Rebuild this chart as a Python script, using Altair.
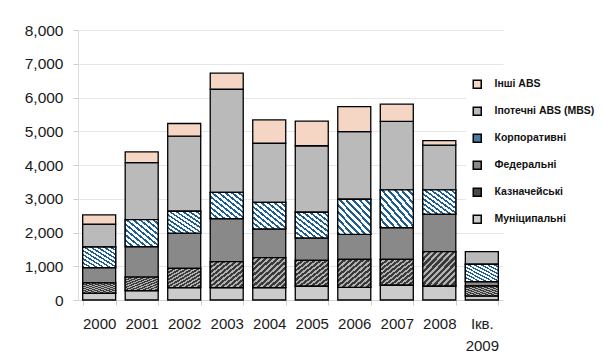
import altair as alt
import pandas as pd

years = ["2000", "2001", "2002", "2003", "2004", "2005", "2006", "2007", "2008", "Ікв. 2009"]
categories = ["Муніципальні", "Казначейські", "Федеральні", "Корпоративні", "Іпотечні ABS (MBS)", "Інші ABS"]
municipal = [200, 280, 365, 365, 365, 415, 375, 445, 415, 120]
treasury = [310, 400, 575, 770, 890, 760, 830, 760, 1020, 295]
federal = [450, 900, 1040, 1275, 850, 665, 740, 940, 1110, 130]
corporate = [610, 800, 650, 780, 790, 760, 1040, 1120, 720, 515]
mbs = [680, 1690, 2225, 3055, 1750, 1970, 2005, 2025, 1325, 375]
other = [270, 320, 375, 475, 690, 730, 740, 515, 130, 0]

series = [municipal, treasury, federal, corporate, mbs, other]
rows = []
for k, (cat, vals) in enumerate(zip(categories, series)):
    for y, v in zip(years, vals):
        rows.append({"year": y, "category": cat, "order": k, "value": v})
df = pd.DataFrame(rows)

legend_order = list(reversed(categories))
legend_colors = ["#f5d6c4", "#bababa", "#4a7aa3", "#898989", "#4a4a4a", "#cbcbcb"]


def stripes(c1, c2, n, frac, x1, y1, x2, y2):
    stops = []
    for i in range(n):
        a = i / n
        m = (i + frac) / n
        b = (i + 1) / n
        stops += [alt.GradientStop(offset=a, color=c1), alt.GradientStop(offset=m, color=c1),
                  alt.GradientStop(offset=m, color=c2), alt.GradientStop(offset=b, color=c2)]
    return alt.LinearGradient(gradient="linear", stops=stops, x1=x1, y1=y1, x2=x2, y2=y2)


treasury_fill = stripes("#3a3a3a", "#b3b3b3", 11, 0.55, 0, 0, 1, 1)
corporate_fill = stripes("#1d5e8e", "#ffffff", 10, 0.42, 0, 1, 1, 0)

base = alt.Chart(df).transform_filter("datum.value > 0").transform_stack(
    stack="value", groupby=["year"], as_=["y0", "y1"], sort=[alt.SortField("order")]
)

x_enc = alt.X(
    "year:N", sort=years, title=None,
    scale=alt.Scale(paddingInner=0.224, paddingOuter=0.11),
    axis=alt.Axis(
        labelAngle=0, labelFontSize=15, labelColor="#1a1a1a", labelPadding=11,
        tickBand="extent", tickSize=5, tickColor="#cfcfcf", domainColor="#d4d4d4",
        labelLineHeight=22,
        labelExpr="datum.value == 'Ікв. 2009' ? ['Ікв.', '2009'] : datum.value",
    ),
)
y_enc = alt.Y(
    "y0:Q", title=None,
    scale=alt.Scale(domain=[0, 8000], nice=False),
    axis=alt.Axis(
        values=[0, 1000, 2000, 3000, 4000, 5000, 6000, 7000, 8000], format=",.0f",
        labelFontSize=15.5, labelColor="#1a1a1a", labelPadding=10, tickSize=5,
        tickColor="#cfcfcf", domainColor="#dedede", gridColor="#e6e6e6",
    ),
)

bars = base.mark_bar(stroke="black", strokeWidth=1.3).encode(
    x=x_enc, y=y_enc, y2="y1:Q",
    color=alt.Color(
        "category:N",
        scale=alt.Scale(domain=legend_order, range=legend_colors),
        legend=alt.Legend(
            title=None, orient="none", legendX=388, legendY=43,
            symbolType="square", symbolSize=64, symbolStrokeColor="black",
            symbolStrokeWidth=1.5, symbolOpacity=1,
            labelFont="Liberation Sans", labelFontWeight="bold", labelFontSize=10.5,
            labelColor="#111111", rowPadding=12, labelOffset=12,
            fillColor="white", padding=6,
        ),
    ),
)

treas = base.transform_filter("datum.category == 'Казначейські'").mark_bar(
    color=treasury_fill, stroke="black", strokeWidth=1.3
).encode(x=x_enc, y=y_enc, y2="y1:Q")

corp = base.transform_filter("datum.category == 'Корпоративні'").mark_bar(
    color=corporate_fill, stroke="black", strokeWidth=1.3
).encode(x=x_enc, y=y_enc, y2="y1:Q")

chart = alt.layer(bars, treas, corp).properties(
    width=425, height=270,
    autosize=alt.AutoSizeParams(type="none"),
    padding={"left": 70, "top": 22, "right": 95, "bottom": 54},
).configure(font="Liberation Sans").configure_view(stroke=None)

chart.save("out.html", embed_options={"renderer": "svg", "actions": False})
